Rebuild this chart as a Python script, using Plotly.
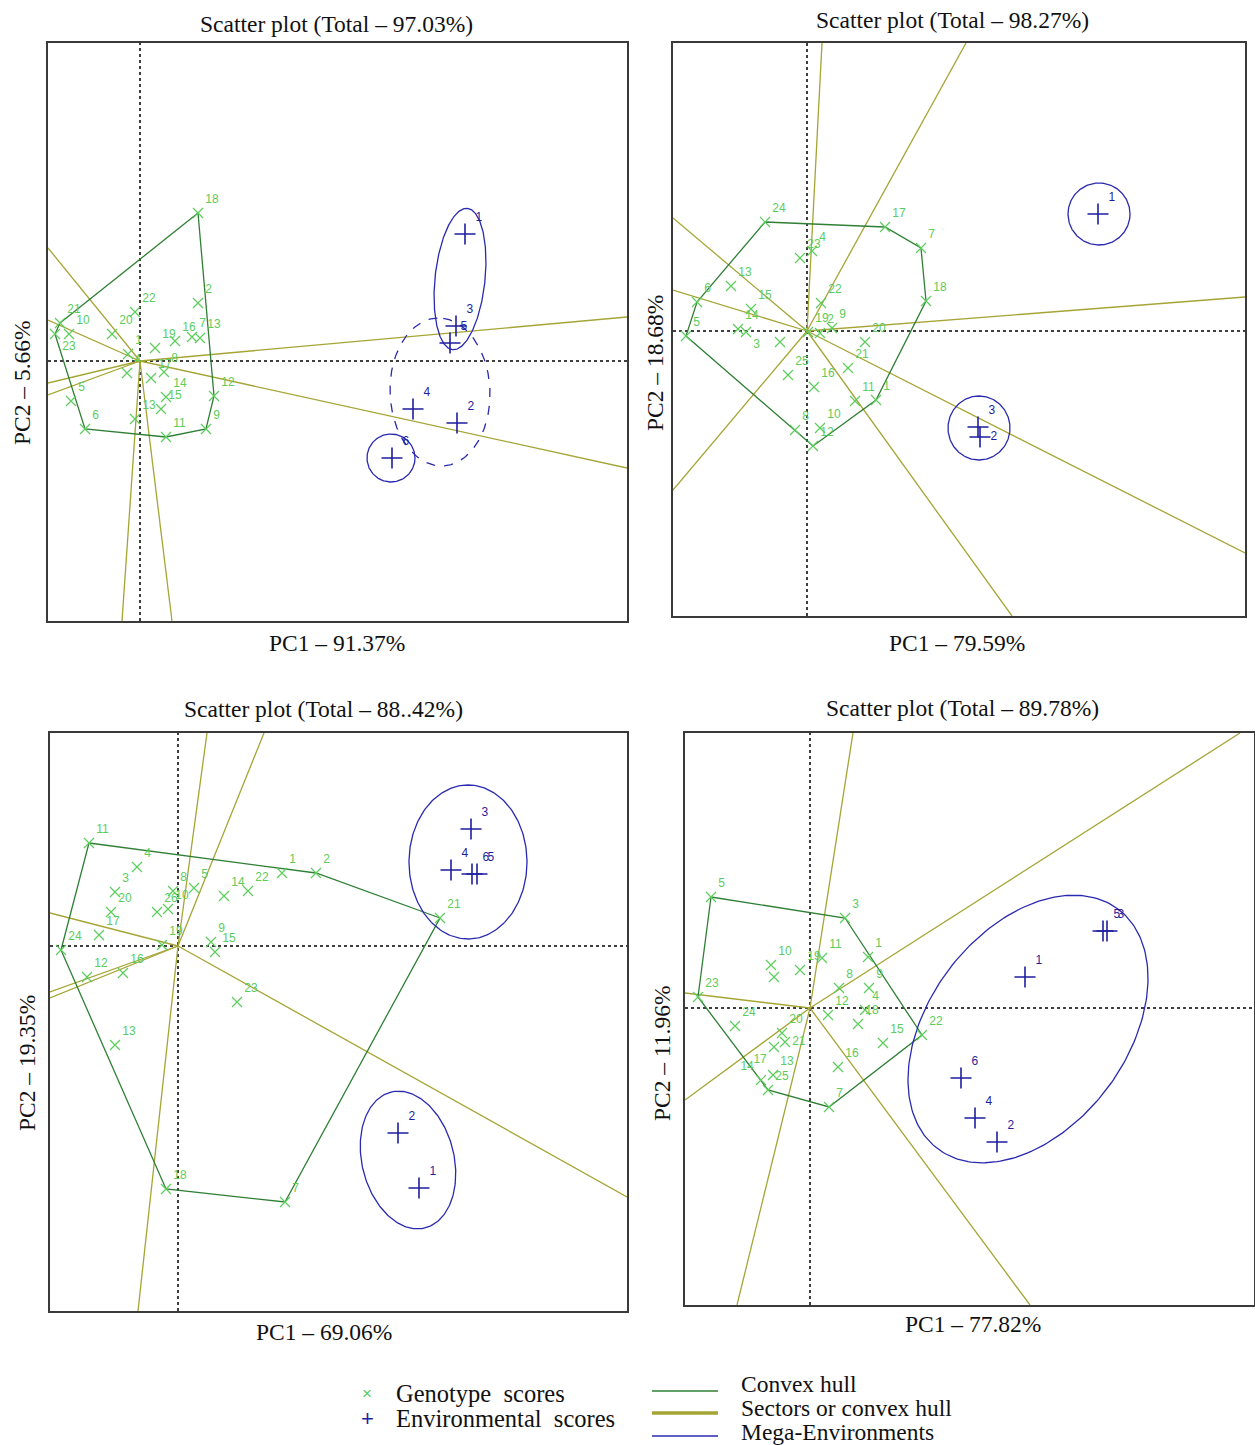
import numpy as np
import plotly.graph_objects as go

W, H = 1255, 1445

# ---------------- DATA ----------------
# Panel 1
p1_gen_lab = ["18", "2", "22", "20", "21", "10", "23", "16", "7", "13", "19", "8", "17", "4", "1",
              "5", "6", "14", "15", "13", "12", "9", "11"]
p1_gen_x = [58, 58, -5, -28, -80, -71, -85, 35, 52, 60, 15, 24, 11, -13, -12, -69, -55, 26, 21, -5, 74, 66, 26]
p1_gen_y = [148, 58, 49, 27, 38, 27, 27, 20, 24, 23, 13, -11, -17, -12, 7, -40, -68, -36, -48, -58, -35, -68, -76]
p1_hull = ["21", "18", "12", "9", "11", "6", "23", "21"]
p1_env_lab = ["1", "3", "5", "4", "2", "6"]
p1_env_x = [325, 316, 310, 273, 317, 252]
p1_env_y = [127, 35, 18, -48, -62, -97]
p1_ray_x = [-92, -92, -92, -92, -18, 32, 487, 487]
p1_ray_y = [113, 41, -22, -34, -260, -260, 44, -107]
p1_ell_cx = [320, 300, 251]
p1_ell_cy = [82, -31, -97]
p1_ell_a = [71, 74, 24]
p1_ell_b = [25, 50, 24]
p1_ell_ang = [84, 92, 0]
p1_ell_dash = ["solid", "dash", "solid"]

# Panel 2
p2_gen_lab = ["24", "17", "7", "18", "23", "4", "13", "6", "15", "14", "3", "5", "22", "2", "9", "19",
              "", "20", "25", "21", "16", "11", "1", "8", "10", "12"]
p2_gen_x = [-42, 78, 114, 119, -7, 5, -76, -110, -56, -69, -61, -121, 14, 13, 25, 1,
            -27, 58, -19, 41, 7, 48, 69, -12, 13, 6]
p2_gen_y = [109, 104, 83, 30, 73, 80, 45, 29, 22, 2, -1, -5, 28, -2, 3, -1,
            -11, -11, -44, -37, -56, -70, -69, -99, -97, -115]
p2_hull = ["24", "17", "7", "18", "1", "12", "5", "6", "24"]
p2_env_lab = ["1", "3", "2"]
p2_env_x = [291, 171, 173]
p2_env_y = [117, -96, -106]
p2_ray_x = [15, 159, -134, -134, 438, 438, 205, -134]
p2_ray_y = [288, 288, 113, 41, 34, -222, -285, -159]
p2_ell_cx = [292, 172]
p2_ell_cy = [117, -97]
p2_ell_a = [31, 32]
p2_ell_b = [31, 31]
p2_ell_ang = [0, 90]
p2_ell_dash = ["solid", "solid"]

# Panel 3
p3_gen_lab = ["11", "4", "1", "2", "3", "20", "8", "5", "26", "10", "14", "22", "17", "19", "9", "15",
              "24", "12", "16", "23", "13", "18", "7", "21"]
p3_gen_x = [-89, -41, 104, 138, -63, -67, -5, 16, -21, -10, 46, 70, -79, -16, 33, 37,
            -117, -91, -55, 59, -63, -12, 107, 262]
p3_gen_y = [103, 79, 73, 73, 54, 34, 55, 58, 34, 37, 50, 55, 11, 1, 4, -6,
            -4, -31, -27, -56, -99, -243, -256, 28]
p3_hull = ["11", "2", "21", "7", "18", "24", "11"]
p3_env_lab = ["3", "4", "6", "5", "2", "1"]
p3_env_x = [293, 273, 294, 299, 220, 241]
p3_env_y = [117, 76, 72, 72, -187, -242]
p3_ray_x = [29, 86, -40, -128, -128, -128, 449]
p3_ray_y = [213, 213, -365, 33, -46, -52, -251]
p3_ell_cx = [290, 230]
p3_ell_cy = [84, -214]
p3_ell_a = [77, 70]
p3_ell_b = [59, 46]
p3_ell_ang = [90, 104]
p3_ell_dash = ["solid", "solid"]

# Panel 4
p4_gen_lab = ["5", "3", "10", "", "19", "11", "1", "8", "9", "23", "12", "4", "18", "24", "20", "21",
              "17", "15", "22", "16", "13", "14", "25", "7"]
p4_gen_x = [-99, 35, -39, -36, -10, 12, 58, 29, 59, -112, 18, 55, 48, -75, -28, -25,
            -36, 73, 112, 28, -37, -49, -42, 19]
p4_gen_y = [111, 90, 43, 31, 38, 50, 51, 20, 20, 11, -7, -2, -16, -18, -25, -34,
            -39, -35, -27, -59, -67, -72, -82, -99]
p4_hull = ["5", "3", "22", "7", "25", "23", "5"]
p4_env_lab = ["5", "3", "1", "6", "4", "2"]
p4_env_x = [293, 297, 215, 151, 165, 187]
p4_env_y = [77, 77, 31, -70, -110, -134]
p4_ray_x = [43, 430, -125, -125, -73, 220]
p4_ray_y = [275, 275, 15, -92, -297, -297]
p4_ell_cx = [218]
p4_ell_cy = [-21]
p4_ell_a = [150]
p4_ell_b = [99]
p4_ell_ang = [53]
p4_ell_dash = ["solid"]

titles = ["Scatter plot (Total – 97.03%)", "Scatter plot (Total – 98.27%)",
          "Scatter plot (Total – 88..42%)", "Scatter plot (Total – 89.78%)"]
xtitles = ["PC1 – 91.37%", "PC1 – 79.59%", "PC1 – 69.06%", "PC1 – 77.82%"]
ytitles = ["PC2 – 5.66%", "PC2 – 18.68%", "PC2 – 19.35%", "PC2 – 11.96%"]

# label placement exceptions (label -> position) per panel, to reduce overlaps
label_pos_override = [
    {"23": "bottom right"},
    {"3": "bottom right"},
    {},
    {"21": "middle right", "17": "bottom left", "14": "top left"},
]
env_pos_override = [
    {},
    {"2": "middle right"},
    {},
    {},
]

# ---------------- LAYOUT (pixel boxes) ----------------
# left, right, top, bottom, origin x, origin y
boxes = [
    (48, 627, 43, 621, 140, 361),
    (673, 1245, 43, 616, 807, 331),
    (50, 627, 733, 1311, 178, 946),
    (685, 1254, 733, 1305, 810, 1008),
]
title_pos = [(337, 24), (953, 20), (323, 709), (962, 708)]
xtitle_pos = [(337, 643), (957, 643), (324, 1332), (973, 1324)]
ytitle_pos = [(22, 383), (655, 363), (27, 1063), (662, 1053)]

GEN_C = "#5ccc5c"
HULL_C = "#2f7f35"
SECT_C = "#a5a535"
ENV_C = "#1e1e9e"
ELL_C = "#2a2ab0"
SERIF = "Liberation Serif"

panels = [
    (p1_gen_lab, p1_gen_x, p1_gen_y, p1_hull, p1_env_lab, p1_env_x, p1_env_y, p1_ray_x, p1_ray_y,
     p1_ell_cx, p1_ell_cy, p1_ell_a, p1_ell_b, p1_ell_ang, p1_ell_dash),
    (p2_gen_lab, p2_gen_x, p2_gen_y, p2_hull, p2_env_lab, p2_env_x, p2_env_y, p2_ray_x, p2_ray_y,
     p2_ell_cx, p2_ell_cy, p2_ell_a, p2_ell_b, p2_ell_ang, p2_ell_dash),
    (p3_gen_lab, p3_gen_x, p3_gen_y, p3_hull, p3_env_lab, p3_env_x, p3_env_y, p3_ray_x, p3_ray_y,
     p3_ell_cx, p3_ell_cy, p3_ell_a, p3_ell_b, p3_ell_ang, p3_ell_dash),
    (p4_gen_lab, p4_gen_x, p4_gen_y, p4_hull, p4_env_lab, p4_env_x, p4_env_y, p4_ray_x, p4_ray_y,
     p4_ell_cx, p4_ell_cy, p4_ell_a, p4_ell_b, p4_ell_ang, p4_ell_dash),
]


def px(x):
    return x / W


def py(y):
    return 1 - y / H


fig = go.Figure()
shapes = []
annotations = []
layout_axes = {}

for i, (glab, gx, gy, hull, elab, ex, ey, rx, ry, ecx, ecy, ea, eb, eang, edash) in enumerate(panels):
    n = i + 1
    xa = "x" if n == 1 else f"x{n}"
    ya = "y" if n == 1 else f"y{n}"
    L, R, T, B, ox, oy = boxes[i]
    xr = [L - ox, R - ox]
    yr = [oy - B, oy - T]
    axcommon = dict(showticklabels=False, showgrid=False, zeroline=False, ticks="",
                    showline=True, mirror=True, linecolor="#3a3a3a", linewidth=1.5, fixedrange=True)
    layout_axes["xaxis" + ("" if n == 1 else str(n))] = dict(domain=[px(L), px(R)], range=xr,
                                                             anchor=ya, **axcommon)
    layout_axes["yaxis" + ("" if n == 1 else str(n))] = dict(domain=[py(B), py(T)], range=yr,
                                                             anchor=xa, **axcommon)
    # origin dotted cross
    shapes.append(dict(type="line", xref=xa, yref=ya, x0=xr[0], x1=xr[1], y0=0, y1=0,
                       line=dict(color="black", width=1.5, dash="dot"), layer="below"))
    shapes.append(dict(type="line", xref=xa, yref=ya, x0=0, x1=0, y0=yr[0], y1=yr[1],
                       line=dict(color="black", width=1.5, dash="dot"), layer="below"))
    # sector rays
    sx, sy = [], []
    for a, b in zip(rx, ry):
        sx += [0, a, None]
        sy += [0, b, None]
    fig.add_trace(go.Scatter(x=sx, y=sy, mode="lines", line=dict(color=SECT_C, width=1.3),
                             xaxis=xa, yaxis=ya, showlegend=False, hoverinfo="skip"))
    # hull
    lookup = {}
    for l, a, b in zip(glab, gx, gy):
        if l not in lookup:
            lookup[l] = (a, b)
    hx = [lookup[l][0] for l in hull]
    hy = [lookup[l][1] for l in hull]
    fig.add_trace(go.Scatter(x=hx, y=hy, mode="lines", line=dict(color=HULL_C, width=1.3),
                             xaxis=xa, yaxis=ya, showlegend=False, hoverinfo="skip"))
    # ellipses
    t = np.linspace(0, 2 * np.pi, 240)
    for cx, cy, a, b, ang, dsh in zip(ecx, ecy, ea, eb, eang, edash):
        th = np.deg2rad(ang)
        xe = cx + a * np.cos(t) * np.cos(th) - b * np.sin(t) * np.sin(th)
        ye = cy + a * np.cos(t) * np.sin(th) + b * np.sin(t) * np.cos(th)
        fig.add_trace(go.Scatter(x=xe, y=ye, mode="lines", line=dict(color=ELL_C, width=1.3, dash=dsh),
                                 xaxis=xa, yaxis=ya, showlegend=False, hoverinfo="skip"))
    # genotypes
    ov = label_pos_override[i]
    tpos = [ov.get(l, "top right") for l in glab]
    fig.add_trace(go.Scatter(x=gx, y=gy, mode="markers+text", text=glab, textposition=tpos,
                             textfont=dict(family="Liberation Sans", size=12, color=GEN_C),
                             marker=dict(symbol="x-thin", size=10, line=dict(color=GEN_C, width=1.2)),
                             xaxis=xa, yaxis=ya, showlegend=False, cliponaxis=False))
    # environments
    eov = env_pos_override[i]
    epos = [eov.get(l, "top right") for l in elab]
    fig.add_trace(go.Scatter(x=ex, y=ey, mode="markers+text", text=elab, textposition=epos,
                             textfont=dict(family="Liberation Sans", size=12, color=ENV_C),
                             marker=dict(symbol="cross-thin", size=15, line=dict(color=ENV_C, width=1.6)),
                             xaxis=xa, yaxis=ya, showlegend=False, cliponaxis=False))
    # titles
    tx, ty = title_pos[i]
    annotations.append(dict(x=px(tx), y=py(ty), xref="paper", yref="paper", text=titles[i],
                            showarrow=False, font=dict(family=SERIF, size=23.5, color="#111"),
                            xanchor="center", yanchor="middle"))
    tx, ty = xtitle_pos[i]
    annotations.append(dict(x=px(tx), y=py(ty), xref="paper", yref="paper", text=xtitles[i],
                            showarrow=False, font=dict(family=SERIF, size=23.5, color="#111"),
                            xanchor="center", yanchor="middle"))
    tx, ty = ytitle_pos[i]
    annotations.append(dict(x=px(tx), y=py(ty), xref="paper", yref="paper", text=ytitles[i],
                            showarrow=False, textangle=-90, font=dict(family=SERIF, size=23.5, color="#111"),
                            xanchor="center", yanchor="middle"))

# ---------------- LEGEND ----------------
leg_sym = ["×", "+"]
leg_sym_col = [GEN_C, ENV_C]
leg_sym_txt = ["Genotype  scores", "Environmental  scores"]
leg_sym_y = [1393, 1418]
for s, c, txt, yy in zip(leg_sym, leg_sym_col, leg_sym_txt, leg_sym_y):
    annotations.append(dict(x=px(367), y=py(yy), xref="paper", yref="paper", text=s, showarrow=False,
                            font=dict(family="Liberation Sans", size=22 if s == "+" else 17, color=c),
                            xanchor="center", yanchor="middle"))
    annotations.append(dict(x=px(394), y=py(yy), xref="paper", yref="paper", text=txt, showarrow=False,
                            font=dict(family=SERIF, size=24.5, color="#111"),
                            xanchor="left", yanchor="middle"))
leg_line_col = [HULL_C, SECT_C, ELL_C]
leg_line_w = [1.5, 3.5, 1.5]
leg_line_y = [1391, 1413, 1436]
leg_line_txt = ["Convex hull", "Sectors or convex hull", "Mega-Environments"]
leg_txt_y = [1384, 1408, 1432]
for c, w, yl, txt, yt in zip(leg_line_col, leg_line_w, leg_line_y, leg_line_txt, leg_txt_y):
    shapes.append(dict(type="line", xref="paper", yref="paper", x0=px(652), x1=px(718), y0=py(yl), y1=py(yl),
                       line=dict(color=c, width=w)))
    annotations.append(dict(x=px(739), y=py(yt), xref="paper", yref="paper", text=txt, showarrow=False,
                            font=dict(family=SERIF, size=23.5, color="#111"),
                            xanchor="left", yanchor="middle"))

fig.update_layout(width=W, height=H, margin=dict(l=0, r=0, t=0, b=0),
                  paper_bgcolor="white", plot_bgcolor="white",
                  shapes=shapes, annotations=annotations, showlegend=False, **layout_axes)

fig.write_html("out.html", config={"displayModeBar": False},
               post_script="document.body.style.margin='0';document.body.style.padding='0';"
                           "document.body.style.overflow='hidden';")
